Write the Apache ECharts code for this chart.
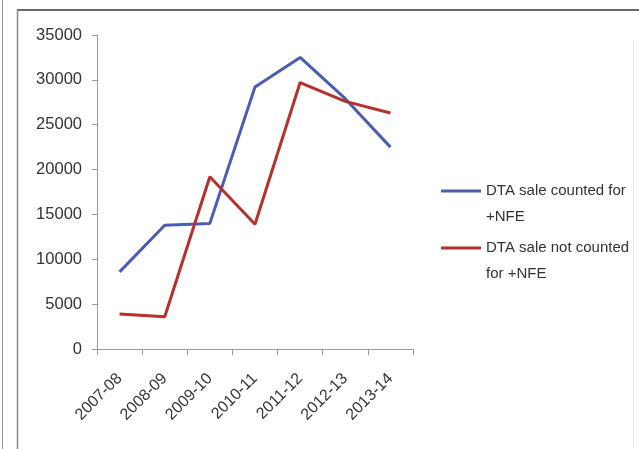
<!DOCTYPE html>
<html>
<head>
<meta charset="utf-8">
<script src="https://cdn.jsdelivr.net/npm/echarts@6/dist/echarts.min.js"></script>
<style>
  html, body { margin: 0; padding: 0; background: #fff; }
  #chart { width: 639px; height: 449px; }
</style>
</head>
<body>
<div id="chart"></div>
<script>
// Fiscal years on the category axis
const years = ['2007-08', '2008-09', '2009-10', '2010-11', '2011-12', '2012-13', '2013-14'];
// DTA sale counted towards positive NFE
const countedForNFE = [8600, 13800, 14000, 29200, 32500, 27900, 22500];
// DTA sale not counted towards positive NFE
const notCountedForNFE = [3900, 3600, 19200, 13900, 29700, 27600, 26300];
// Value axis scale
const yMin = 0, yMax = 35000, yStep = 5000;

const seriesNames = ['DTA sale counted for\n+NFE', 'DTA sale not counted\nfor +NFE'];
const colors = ['#4a5db2', '#b5302f'];
const font = 'Liberation Sans';

const chart = echarts.init(document.getElementById('chart'));
chart.setOption({
  backgroundColor: '#ffffff',
  animation: false,
  grid: { left: 97, top: 35, right: 226, bottom: 100 },
  xAxis: {
    type: 'category',
    data: years,
    boundaryGap: true,
    axisLine: { lineStyle: { color: '#9a9a9a', width: 1 } },
    axisTick: { show: true, length: 6, lineStyle: { color: '#9a9a9a' } },
    axisLabel: { rotate: 45, margin: 27, color: '#333', fontSize: 16, fontFamily: font }
  },
  yAxis: {
    type: 'value',
    min: yMin, max: yMax, interval: yStep,
    axisLine: { show: true, lineStyle: { color: '#9a9a9a', width: 1 } },
    axisTick: { show: true, length: 5, lineStyle: { color: '#9a9a9a' } },
    splitLine: { show: false },
    axisLabel: { margin: 15, color: '#333', fontSize: 16.5, fontFamily: font, formatter: v => String(v) }
  },
  legend: {
    orient: 'vertical',
    left: 436,
    top: 147,
    itemWidth: 40,
    itemHeight: 3,
    itemGap: -21,
    icon: 'rect',
    // a leading blank line keeps the key line level with the first text line
    formatter: name => '\n' + name,
    textStyle: { color: '#333', fontSize: 15, fontFamily: font, lineHeight: 26 },
    data: seriesNames
  },
  series: [
    {
      name: seriesNames[0], type: 'line', data: countedForNFE,
      symbol: 'none', lineStyle: { color: colors[0], width: 3 }, itemStyle: { color: colors[0] }
    },
    {
      name: seriesNames[1], type: 'line', data: notCountedForNFE,
      symbol: 'none', lineStyle: { color: colors[1], width: 3 }, itemStyle: { color: colors[1] }
    }
  ],
  graphic: [
    { type: 'line', shape: { x1: 17, y1: 10, x2: 639, y2: 10 }, style: { stroke: '#6a6a6a', lineWidth: 2 } },
    { type: 'line', shape: { x1: 2.5, y1: 0, x2: 2.5, y2: 449 }, style: { stroke: '#9a9a9a', lineWidth: 1 } },
    { type: 'line', shape: { x1: 17.5, y1: 10, x2: 17.5, y2: 449 }, style: { stroke: '#8a8a8a', lineWidth: 1.5 } },
    { type: 'line', shape: { x1: 633.5, y1: 40, x2: 633.5, y2: 449 }, style: { stroke: '#ececec', lineWidth: 1 } }
  ]
});
</script>
</body>
</html>
